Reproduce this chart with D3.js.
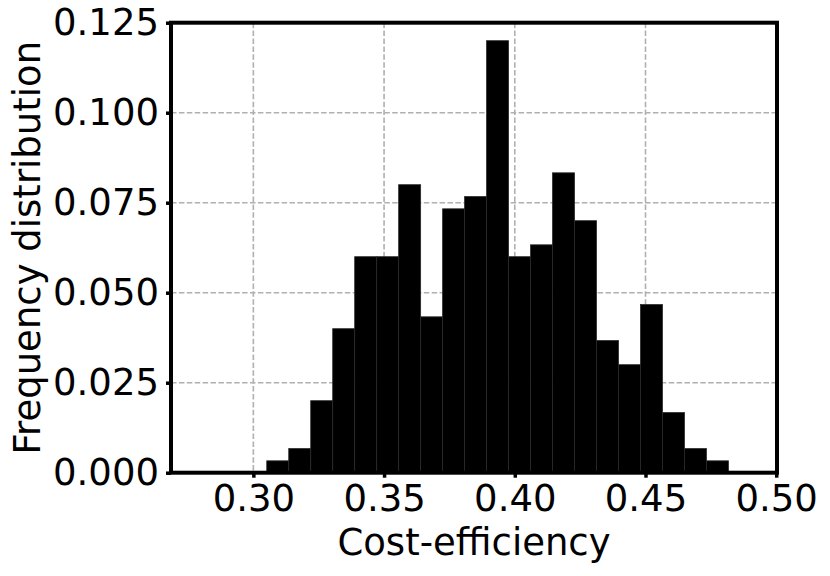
<!DOCTYPE html>
<html>
<head>
<meta charset="utf-8">
<script src="https://cdn.jsdelivr.net/npm/d3@7"></script>
<style>
  body { margin: 0; background: #fff; }
  text { font-family: "DejaVu Sans", sans-serif; fill: #000; }
</style>
</head>
<body>
<svg id="chart" width="830" height="576"></svg>
<script>
// histogram: 25 bins, first edge and bin width
const binStart = 0.2799
const binWidth = 0.008409
const freqs = [
  0, 0, 0, 0.0033, 0.0067, 0.0200, 0.0400, 0.0600, 0.0600, 0.0800,
  0.0433, 0.0733, 0.0767, 0.1200, 0.0600, 0.0633, 0.0833, 0.0700,
  0.0367, 0.0300, 0.0467, 0.0167, 0.0067, 0.0033, 0
]
const xTicks = [0.30, 0.35, 0.40, 0.45, 0.50]
const yTicks = [0, 0.025, 0.05, 0.075, 0.1, 0.125]
const xDomain = [0.2685, 0.5003]
const yDomain = [0, 0.125]

const plotLeft = 171, plotRight = 777, plotTop = 22.7, plotBottom = 472.7
const fontSize = 37

const svg = d3.select('#chart')

const x = d3.scaleLinear().domain(xDomain).range([plotLeft, plotRight])
const y = d3.scaleLinear().domain(yDomain).range([plotBottom, plotTop])

const bins = freqs.map((f, i) => ({
  x0: binStart + i * binWidth,
  x1: binStart + (i + 1) * binWidth,
  f: f
}))

// grid
const grid = svg.append('g').attr('class', 'grid')
  .attr('stroke', '#b0b0b0')
  .attr('stroke-width', 1.6)
  .attr('stroke-dasharray', '5.5,2.4')
grid.selectAll('line.v')
  .data(xTicks)
  .join('line').attr('class', 'v')
  .attr('x1', d => x(d)).attr('x2', d => x(d))
  .attr('y1', plotTop).attr('y2', plotBottom)
grid.selectAll('line.h')
  .data(yTicks)
  .join('line').attr('class', 'h')
  .attr('x1', plotLeft).attr('x2', plotRight)
  .attr('y1', d => y(d)).attr('y2', d => y(d))

// bars
svg.append('g').attr('class', 'bars')
  .selectAll('rect')
  .data(bins.filter(d => d.f > 0))
  .join('rect')
  .attr('x', d => x(d.x0))
  .attr('width', d => x(d.x1) - x(d.x0))
  .attr('y', d => y(d.f))
  .attr('height', d => y(0) - y(d.f))
  .attr('fill', '#000')
  .attr('stroke', '#2a2a2a')
  .attr('stroke-width', 0.8)

// axes
const xAxis = svg.append('g')
  .attr('transform', `translate(0,${plotBottom})`)
  .call(d3.axisBottom(x).tickValues(xTicks).tickFormat(d3.format('.2f'))
    .tickSize(5).tickPadding(7))
const yAxis = svg.append('g')
  .attr('transform', `translate(${plotLeft},0)`)
  .call(d3.axisLeft(y).tickValues(yTicks).tickFormat(d3.format('.3f'))
    .tickSize(5).tickPadding(7))

;[xAxis, yAxis].forEach(g => {
  g.select('.domain').remove()
  g.selectAll('.tick line').attr('stroke', '#000').attr('stroke-width', 3.5)
  g.selectAll('.tick text')
    .style('font-family', '"DejaVu Sans", sans-serif')
    .style('font-size', fontSize + 'px')
    .attr('fill', '#000')
})

// frame
svg.append('rect')
  .attr('x', plotLeft).attr('y', plotTop)
  .attr('width', plotRight - plotLeft).attr('height', plotBottom - plotTop)
  .attr('fill', 'none')
  .attr('stroke', '#000')
  .attr('stroke-width', 4)

// labels
svg.append('text')
  .attr('x', (plotLeft + plotRight) / 2)
  .attr('y', 555)
  .attr('text-anchor', 'middle')
  .style('font-size', fontSize + 'px')
  .text('Cost-efficiency')

svg.append('text')
  .attr('transform', `translate(40,${(plotTop + plotBottom) / 2}) rotate(-90)`)
  .attr('text-anchor', 'middle')
  .style('font-size', fontSize + 'px')
  .text('Frequency distribution')
</script>
</body>
</html>
